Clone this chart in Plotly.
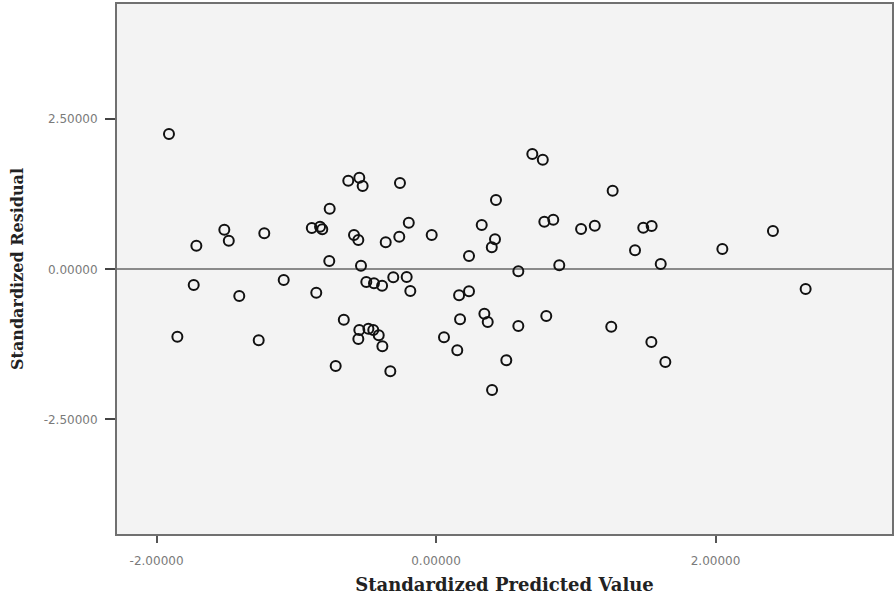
import plotly.graph_objects as go

# Standardized predicted values (x) and standardized residuals (y)
pred = [-1.911, -1.715, -1.515, -1.483, -1.229, -1.734, -1.090, -1.408, -1.851, -1.269,
        0.689, 0.764, -0.628, -0.549, -0.525, -0.258, 0.429, -0.761, -0.889, -0.830,
        -0.814, -0.195, 0.327, 0.775, 0.839, 1.038, 1.136, -0.587, -0.556, -0.360,
        -0.263, -0.031, 0.422, 0.399, 0.236, -0.764, -0.537, 0.882, 0.589, -0.499,
        -0.444, -0.386, -0.306, -0.210, -0.184, -0.857, 0.165, 0.236, -0.660, -0.549,
        -0.484, -0.449, -0.410, -0.556, -0.384, 0.057, 0.172, 0.346, 0.370, 0.589,
        0.789, 0.152, -0.718, -0.327, 0.503, 0.401, 1.264, 1.483, 1.543, 1.424,
        1.608, 2.049, 2.411, 2.645, 1.254, 1.541, 1.641]
resid = [2.255, 0.393, 0.660, 0.477, 0.600, -0.262, -0.178, -0.445, -1.123, -1.183,
         1.922, 1.827, 1.477, 1.527, 1.388, 1.438, 1.155, 1.010, 0.688, 0.710,
         0.667, 0.777, 0.738, 0.793, 0.827, 0.672, 0.727, 0.572, 0.488, 0.450,
         0.543, 0.572, 0.500, 0.367, 0.222, 0.138, 0.060, 0.067, -0.033, -0.212,
         -0.233, -0.273, -0.133, -0.128, -0.362, -0.390, -0.433, -0.367, -0.840, -1.012,
         -0.990, -1.012, -1.100, -1.162, -1.283, -1.133, -0.833, -0.740, -0.878, -0.945,
         -0.778, -1.350, -1.612, -1.700, -1.517, -2.012, 1.310, 0.693, 0.722, 0.317,
         0.088, 0.338, 0.638, -0.328, -0.957, -1.212, -1.545]

x_tickvals = [-2.0, 0.0, 2.0]
x_ticktext = ["-2.00000", "0.00000", "2.00000"]
y_tickvals = [-2.5, 0.0, 2.5]
y_ticktext = ["-2.50000", "0.00000", "2.50000"]

x_title = "Standardized Predicted Value"
y_title = "Standardized Residual"

fig = go.Figure()
fig.add_trace(go.Scatter(
    x=pred, y=resid, mode="markers",
    marker=dict(symbol="circle-open", size=10, color="#111111",
                line=dict(width=2, color="#111111")),
    showlegend=False, hoverinfo="x+y",
))

tick_font = dict(family="DejaVu Sans", size=12, color="#7a7a7a")
x_title_font = dict(family="DejaVu Serif", size=18, color="#222222", weight="bold")
y_title_font = dict(family="DejaVu Serif", size=16, color="#222222", weight="bold")

fig.update_layout(
    width=894, height=595,
    margin=dict(l=117, r=2, t=4, b=61),
    paper_bgcolor="white",
    plot_bgcolor="#f3f3f3",
    xaxis=dict(
        range=[-2.283, 3.263], tickvals=x_tickvals, ticktext=x_ticktext,
        ticks="outside", ticklen=7, tickwidth=2, tickcolor="#555555",
        showgrid=False, zeroline=False,
        showline=True, linecolor="#707070", linewidth=2, mirror=True,
        tickfont=tick_font, ticklabelstandoff=8,
        title=dict(text=x_title, font=x_title_font, standoff=12),
        automargin=False,
    ),
    yaxis=dict(
        range=[-4.41, 4.42], tickvals=y_tickvals, ticktext=y_ticktext,
        ticks="outside", ticklen=10, tickwidth=2, tickcolor="#444444",
        showgrid=False, zeroline=True, zerolinecolor="#8a8a8a", zerolinewidth=1.5,
        showline=True, linecolor="#707070", linewidth=2, mirror=True,
        tickfont=tick_font, ticklabelstandoff=5,
        title=dict(text=y_title, font=y_title_font, standoff=16),
        automargin=False,
    ),
)

fig.write_html("out.html", config={"displayModeBar": False},
               post_script="document.body.style.margin='0';")
